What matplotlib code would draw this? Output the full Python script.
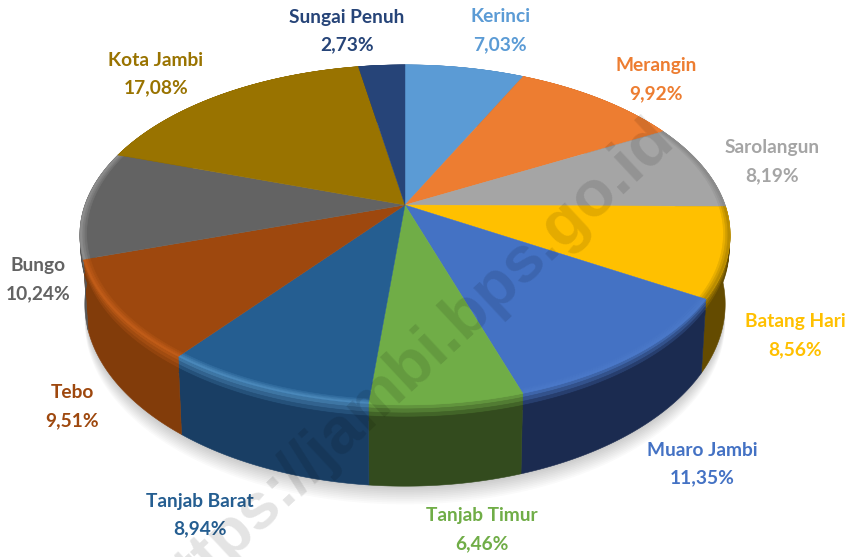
import numpy as np
import matplotlib
matplotlib.use("Agg")
import matplotlib.pyplot as plt
from matplotlib.colors import to_rgb

# data
labels = ["Kerinci", "Merangin", "Sarolangun", "Batang Hari", "Muaro Jambi", "Tanjab Timur",
          "Tanjab Barat", "Tebo", "Bungo", "Kota Jambi", "Sungai Penuh"]
values = [7.03, 9.92, 8.19, 8.56, 11.35, 6.46, 8.94, 9.51, 10.24, 17.08, 2.73]

colors = ["#5B9BD5", "#ED7D31", "#A5A5A5", "#FFC000", "#4472C4", "#70AD47",
          "#255E91", "#9E480E", "#636363", "#997300", "#264478"]
wall_colors = ["#3a6a94", "#a0521c", "#6c6c6c", "#644b00", "#1b2b50", "#334b1e",
               "#193e64", "#823c0a", "#565656", "#5f4800", "#172b50"]
rim_colors = ["#5B9BD5", "#ED7D31", "#8a8a8a", "#b98c00", "#4a78c8", "#70AD47",
              "#4a88ba", "#c05c18", "#8c8c8c", "#997300", "#264478"]

# where each label sits (pixels)
label_x = [500, 656, 772, 795, 702, 482, 200, 72, 38, 156, 347]
label_y = [17, 66, 148, 322, 450, 516, 501, 393, 266, 60, 17]

# perspective of the disc
cx, cy = 405, 205
A, B, k = 320, 164.7, 0.176
depth = 67


def project(r, t, drop=0.0, shrink=1.0):
    u = r * np.sin(t)
    v = r * np.cos(t)
    w = 1 + k * v
    return cx + shrink * A * u / w, cy - B * v / w + drop * depth / w


def mix(c1, c2, f):
    c1, c2 = np.array(to_rgb(c1)), np.array(to_rgb(c2))
    return tuple(c1 * (1 - f) + c2 * f)


fig = plt.figure(figsize=(8.52, 5.57), dpi=100)
ax = fig.add_axes([0, 0, 1, 1])
ax.set_xlim(0, 852)
ax.set_ylim(557, 0)
ax.axis("off")

total = sum(values)
edges = np.concatenate([[0], np.cumsum(values)]) / total * 2 * np.pi
full = np.linspace(0, 2 * np.pi, 300)

# soft shadow under the pie
for i in range(10):
    sx, sy = project(1.0, full, drop=1.0, shrink=0.985)
    ax.fill(sx, sy + 2 + i * 1.8, color="black", alpha=0.018, lw=0, zorder=1)

# side walls
for i in range(len(values)):
    t = np.linspace(edges[i], edges[i + 1], 60)
    x1, y1 = project(1.0, t)
    x2, y2 = project(1.0, t, drop=1.0, shrink=0.985)
    ax.fill(np.r_[x1, x2[::-1]], np.r_[y1, y2[::-1]], color=wall_colors[i], lw=0.4,
            ec=wall_colors[i], zorder=2)
    # lighter band where the wall meets the top
    bands = np.linspace(0, 0.2, 5)
    for j in range(4):
        x1, y1 = project(1.0, t, drop=bands[j], shrink=1 - 0.015 * bands[j])
        x2, y2 = project(1.0, t, drop=bands[j + 1], shrink=1 - 0.015 * bands[j + 1])
        shade = mix(rim_colors[i], wall_colors[i], (j + 1) / 4)
        ax.fill(np.r_[x1, x2[::-1]], np.r_[y1, y2[::-1]], color=shade, lw=0.5, ec=shade, zorder=2.5 + j * 0.01)

# top face
for i in range(len(values)):
    t = np.linspace(edges[i], edges[i + 1], 60)
    x, y = project(1.0, t)
    ax.fill(np.r_[cx, x], np.r_[cy, y], color=colors[i], lw=0.3, ec=colors[i], zorder=3)
    # bevel along the outer edge
    rings = np.linspace(0.98, 1.0, 4)
    for j in range(3):
        x1, y1 = project(rings[j], t)
        x2, y2 = project(rings[j + 1], t)
        shade = mix(colors[i], rim_colors[i], (j + 1) / 3)
        ax.fill(np.r_[x1, x2[::-1]], np.r_[y1, y2[::-1]], color=shade, lw=0.4, ec=shade, zorder=4 + j * 0.01)

# labels
for i in range(len(values)):
    pct = f"{values[i]:.2f}%".replace(".", ",")
    ax.text(label_x[i], label_y[i], labels[i], color=colors[i], fontsize=13.8, family="Lato",
            weight="bold", ha="center", va="center", zorder=5)
    ax.text(label_x[i], label_y[i] + 28, pct, color=colors[i], fontsize=13.8, family="Lato",
            weight="bold", ha="center", va="center", zorder=5)

# watermark
ax.text(410, 366, "https://jambi.bps.go.id", color="black", alpha=0.11, fontsize=47,
        family="Liberation Sans", weight="bold", rotation=43, rotation_mode="anchor",
        ha="center", va="center", zorder=6)

fig.savefig("out.png", dpi=100)
